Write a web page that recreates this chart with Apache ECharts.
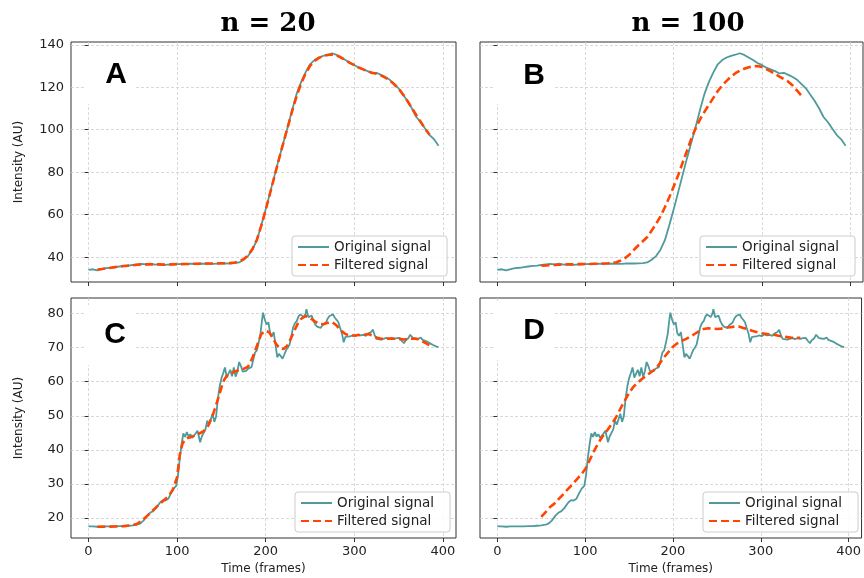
<!DOCTYPE html>
<html>
<head>
<meta charset="utf-8">
<script src="https://cdn.jsdelivr.net/npm/echarts@6/dist/echarts.min.js"></script>
<style>html,body{margin:0;padding:0;background:#fff;}#c{width:864px;height:578px;}</style>
</head>
<body>
<div id="c"></div>
<script>
// ---------------- data ----------------
const columnTitles = ['n = 20', 'n = 100'];
const panelLetters = ['A', 'B', 'C', 'D'];
const seriesNames = ['Original signal', 'Filtered signal'];
const xTicks = [0, 100, 200, 300, 400];
const yTicksTop = [40, 60, 80, 100, 120, 140];
const yTicksBottom = [20, 30, 40, 50, 60, 70, 80];

// top row original signal (A, B)
const topX = [0,5,10,15,20,25,30,35,40,45,50,55,60,65,70,75,80,85,90,95,100,105,110,115,120,125,130,135,140,145,150,155,160,165,170,175,180,185,190,195,200,205,210,215,220,225,230,235,240,245,250,255,260,265,270,275,280,285,290,295,300,305,310,315,320,325,330,335,340,345,350,355,360,365,370,375,380,385,390,395];
const topOrig = [34.0,34.3,33.8,34.4,34.8,35.0,35.3,35.6,35.9,36.0,
  36.3,36.6,36.8,36.6,36.9,36.5,36.6,36.4,36.5,36.6,
  36.7,36.8,36.7,36.9,36.8,37.0,36.9,37.0,36.8,37.0,
  37.1,37.0,37.1,37.2,37.5,38.8,40.5,43.5,48.0,55.0,
  62.5,70.5,78.5,86.5,94.0,101.5,109.5,117.0,122.5,127.0,
  130.8,132.8,134.0,134.8,135.3,136.0,135.2,134.0,132.8,131.4,
  130.5,129.2,128.4,127.6,126.5,126.8,125.8,124.8,123.5,121.5,
  119.5,116.5,113.5,110.0,106.0,103.5,100.5,97.5,95.5,92.5];

// top row filtered n=20 (A)
const f20TopX = [10,15,20,25,30,35,40,45,50,55,60,65,70,75,80,85,90,95,100,105,110,115,120,125,130,135,140,145,150,155,160,165,170,175,180,185,190,195,200,205,210,215,220,225,230,235,240,245,250,255,260,265,270,275,280,285,290,295,300,305,310,315,320,325,330,335,340,345,350,355,360,365,370,375,380,385];
const f20Top = [34.2,34.4,34.7,35.0,35.3,35.6,35.8,36.0,
  36.2,36.4,36.6,36.6,36.6,36.6,36.6,36.5,36.5,36.6,
  36.7,36.7,36.8,36.8,36.9,36.9,36.9,37.0,37.0,37.0,
  37.1,37.1,37.2,37.5,38.0,39.0,40.8,43.8,48.2,54.8,
  62.3,70.2,78.2,86.2,94.0,101.5,109.0,116.0,121.8,126.5,
  130.0,132.3,133.8,134.7,135.2,135.4,135.0,134.0,132.8,131.5,
  130.4,129.3,128.4,127.6,126.8,126.3,125.6,124.5,123.2,121.4,
  119.3,116.6,113.5,110.2,106.8,103.6,100.4,97.6];

// filtered n=100 x positions (B, D)
const f100X = [50,55,60,65,70,75,80,85,90,95,100,105,110,115,120,125,130,135,140,145,150,155,160,165,170,175,180,185,190,195,200,205,210,215,220,225,230,235,240,245,250,255,260,265,270,275,280,285,290,295,300,305,310,315,320,325,330,335,340,345];
const f100Top = [36.0,36.1,36.2,36.3,36.4,36.5,36.6,36.6,36.7,36.7,
  36.8,36.8,36.9,36.9,37.0,37.1,37.3,37.6,38.4,39.6,
  41.3,43.5,45.6,47.5,49.5,52.5,55.7,59.2,63.5,68.2,
  73.3,78.5,84.3,90.0,95.8,100.8,105.0,108.5,111.8,115.0,
  118.2,120.8,123.0,125.0,126.6,127.8,128.7,129.4,129.8,130.0,
  129.5,128.5,127.5,126.2,125.0,123.8,122.6,120.8,118.4,116.0];

// bottom row original signal (C, D)
const botX = [0,5,10,15,20,25,30,35,40,45,
  50,55,58,62,66,70,73,76,78,81,
  84,87,90,93,96,99,101,103,105,107,
  109,111,113,115,117,119,121,123,125,126,
  128,130,132,134,136,138,140,142,144,146,
  148,150,152,154,156,158,160,162,164,166,
  168,170,172,174,176,178,180,182,184,186,
  188,190,192,194,196,197,199,201,203,205,
  207,209,211,213,215,217,219,221,223,225,
  227,229,231,233,235,237,239,241,243,245,
  246,248,250,252,254,256,258,260,262,264,
  266,268,270,272,274,276,278,280,282,284,
  286,288,290,292,295,298,301,304,307,310,
  313,316,319,321,323,325,327,330,333,336,
  339,342,345,348,351,354,356,358,361,363,
  366,369,372,375,377,380,383,386,389,392,
  395];
const botOrig = [17.5,17.5,17.4,17.5,17.5,17.5,17.5,17.6,17.6,17.7,
  17.8,18.0,18.3,19.2,20.6,21.6,22.0,22.8,22.3,24.6,
  25.2,25.1,25.6,27.2,28.6,29.4,32.5,37.5,41.5,44.8,
  43.8,45.2,43.9,44.6,43.5,44.2,44.8,45.6,43.4,42.2,
  44.0,43.6,46.0,48.6,47.4,49.0,50.6,48.2,49.8,55.0,
  58.6,61.0,62.5,64.2,61.2,62.4,63.5,61.6,64.2,61.5,
  63.0,65.8,64.6,63.0,63.4,63.2,63.8,63.5,64.3,66.5,
  68.6,69.2,71.5,74.0,78.5,80.3,78.2,76.8,77.5,74.2,
  73.5,74.6,71.0,67.2,68.2,68.0,66.8,68.0,69.3,70.0,
  71.0,73.5,76.0,77.2,77.8,79.2,79.8,80.2,79.0,80.0,
  81.3,79.0,78.6,79.4,77.8,76.8,76.2,76.5,75.8,76.6,
  76.9,77.4,78.6,79.3,79.6,79.8,78.8,78.2,77.5,75.8,
  74.2,71.6,73.2,73.0,73.3,73.6,73.4,73.9,73.6,73.8,
  73.5,74.2,74.6,75.3,73.6,72.6,72.2,72.4,72.6,72.9,
  72.5,72.9,72.6,72.8,72.9,71.9,71.3,72.2,72.8,73.8,
  72.9,72.7,72.6,73.0,72.3,72.0,71.7,71.2,70.8,70.4,
  70.2];

// bottom row filtered n=20 (C)
const f20BotX = [10,20,30,40,50,55,60,65,70,75,
  80,85,90,95,100,103,106,109,112,116,
  120,125,130,135,140,145,150,153,156,160,
  165,170,175,180,185,190,195,200,204,208,
  212,216,220,224,228,232,236,240,245,250,
  255,260,265,270,275,280,285,290,295,300,
  310,316,320,325,330,340,350,356,362,368,
  372,376,380,385];
const f20Bot = [17.4,17.4,17.5,17.6,17.9,18.3,19.2,20.3,21.5,22.8,
  24.0,25.2,26.3,28.2,32.0,38.5,41.8,43.0,43.5,43.8,
  44.2,44.8,45.5,47.0,50.0,54.0,58.3,60.5,61.7,62.4,
  63.0,63.4,63.8,64.4,67.0,70.5,74.0,75.0,74.5,72.8,
  71.0,69.8,69.6,70.5,72.5,74.8,77.0,78.5,79.3,78.8,
  77.8,77.0,76.9,77.3,77.5,76.5,75.0,74.0,73.6,73.6,
  73.8,74.0,73.6,73.0,72.6,72.7,72.6,72.4,72.6,72.7,
  72.5,72.0,71.4,70.7];

// bottom row filtered n=100 (D)
const f100Bot = [20.3,21.7,23.2,24.2,25.6,26.9,28.4,29.7,31.2,32.6,
  34.3,36.9,39.6,42.0,44.0,45.7,47.5,49.5,52.0,54.4,
  56.7,58.5,59.8,60.9,61.9,62.8,63.7,65.4,67.2,68.8,
  70.3,71.3,72.0,72.6,73.3,74.1,74.9,75.5,75.7,75.6,
  75.5,75.6,75.9,76.0,76.2,76.2,75.8,75.4,75.0,74.6,
  74.3,74.1,73.9,73.8,73.5,73.3,73.1,72.9,72.9,72.9];

// ---------------- chart ----------------
function pairs(xs, ys) { return xs.map((x, i) => [x, ys[i]]); }

const FONT = 'DejaVu Sans';
const TEAL = '#4f9a9b';
const ORANGE = '#ff4500';

const grids = [
  {left: 71, top: 42, width: 385, height: 240},
  {left: 480, top: 42, width: 383, height: 240},
  {left: 71, top: 298, width: 385, height: 240},
  {left: 480, top: 298, width: 383, height: 240}
].map(g => Object.assign(g, {show: true, borderColor: '#333', borderWidth: 1, backgroundColor: 'transparent', containLabel: false}));

const gridLine = {show: true, lineStyle: {color: '#cfcfcf', width: 0.8, type: [3, 2]}};

function xAxis(i) {
  const bottom = i >= 2;
  return {
    type: 'value', gridIndex: i, min: -19.75, max: 414.75, splitNumber: 4,
    axisLine: {show: false},
    axisTick: {show: true, length: 4, lineStyle: {color: '#333', width: 1}, customValues: xTicks},
    axisLabel: {show: bottom, customValues: xTicks, margin: 7, color: '#222', fontFamily: FONT, fontSize: 13},
    splitLine: gridLine,
    name: bottom ? 'Time (frames)' : '', nameLocation: 'middle', nameGap: 25,
    nameTextStyle: {fontFamily: FONT, fontSize: 12, color: '#222'}
  };
}
function yAxis(i) {
  const top = i < 2, left = i % 2 === 0;
  const ticks = top ? yTicksTop : yTicksBottom;
  return {
    type: 'value', gridIndex: i,
    min: top ? 28.3 : 14.1, max: top ? 141.3 : 84.6,
    splitNumber: top ? 5 : 7,
    axisLine: {show: false},
    axisTick: {show: true, length: 4, lineStyle: {color: '#333', width: 1}, customValues: ticks},
    axisLabel: {show: left, customValues: ticks, margin: 7, color: '#222', fontFamily: FONT, fontSize: 13},
    splitLine: gridLine,
    name: left ? 'Intensity (AU)' : '', nameLocation: 'middle', nameGap: 46,
    nameTextStyle: {fontFamily: FONT, fontSize: 12, color: '#222'}
  };
}

function origSeries(i, data) {
  return {name: seriesNames[0], type: 'line', xAxisIndex: i, yAxisIndex: i, data: data,
    symbol: 'none', showSymbol: false, z: 2, animation: false,
    lineStyle: {color: TEAL, width: 1.8}, itemStyle: {color: TEAL}};
}
function filtSeries(i, data) {
  return {name: seriesNames[1], type: 'line', xAxisIndex: i, yAxisIndex: i, data: data,
    symbol: 'none', showSymbol: false, z: 3, animation: false,
    lineStyle: {color: ORANGE, width: 2.6, type: [8, 4]}, itemStyle: {color: ORANGE}};
}

const legendPos = [[292, 236], [700, 236], [295, 492], [703, 492]];
const legends = legendPos.map(p => ({
  left: p[0], top: p[1], orient: 'vertical', data: seriesNames,
  itemWidth: 31, itemHeight: 14, itemGap: 4, padding: [4, 16, 4, 5],
  itemStyle: {opacity: 0},
  backgroundColor: 'rgba(255,255,255,0.85)', borderColor: '#cccccc', borderWidth: 1, borderRadius: 3,
  selectedMode: false, z: 6,
  textStyle: {fontFamily: FONT, fontSize: 13.5, color: '#222'}
}));

const letterBoxes = [
  {r: [84, 47, 50, 57], t: [116, 75]},
  {r: [493, 47, 61, 57], t: [534, 75.5]},
  {r: [84, 305, 50, 60], t: [115, 335]},
  {r: [493, 302, 61, 58], t: [534, 331]}
];
const graphics = [];
letterBoxes.forEach((b, i) => {
  graphics.push({type: 'rect', z: 5, shape: {x: b.r[0], y: b.r[1], width: b.r[2], height: b.r[3]}, style: {fill: '#fff'}});
  graphics.push({type: 'text', z: 6, x: b.t[0], y: b.t[1], style: {text: panelLetters[i], fill: '#000',
    font: 'bold 30px "Liberation Sans", Arial, sans-serif', textAlign: 'center', textVerticalAlign: 'middle'}});
});
graphics.push({type: 'text', z: 6, x: 268, y: 24, style: {text: columnTitles[0], fill: '#000',
  font: 'bold 26px "DejaVu Serif", serif', textAlign: 'center', textVerticalAlign: 'middle'}});
graphics.push({type: 'text', z: 6, x: 688, y: 24, style: {text: columnTitles[1], fill: '#000',
  font: 'bold 26px "DejaVu Serif", serif', textAlign: 'center', textVerticalAlign: 'middle'}});

const option = {
  animation: false,
  backgroundColor: '#fff',
  grid: grids,
  xAxis: [0, 1, 2, 3].map(xAxis),
  yAxis: [0, 1, 2, 3].map(yAxis),
  legend: legends,
  graphic: graphics,
  series: [
    origSeries(0, pairs(topX, topOrig)), filtSeries(0, pairs(f20TopX, f20Top)),
    origSeries(1, pairs(topX, topOrig)), filtSeries(1, pairs(f100X, f100Top)),
    origSeries(2, pairs(botX, botOrig)), filtSeries(2, pairs(f20BotX, f20Bot)),
    origSeries(3, pairs(botX, botOrig)), filtSeries(3, pairs(f100X, f100Bot))
  ]
};
const chart = echarts.init(document.getElementById('c'), null, {renderer: 'canvas'});
chart.setOption(option);
</script>
</body>
</html>
